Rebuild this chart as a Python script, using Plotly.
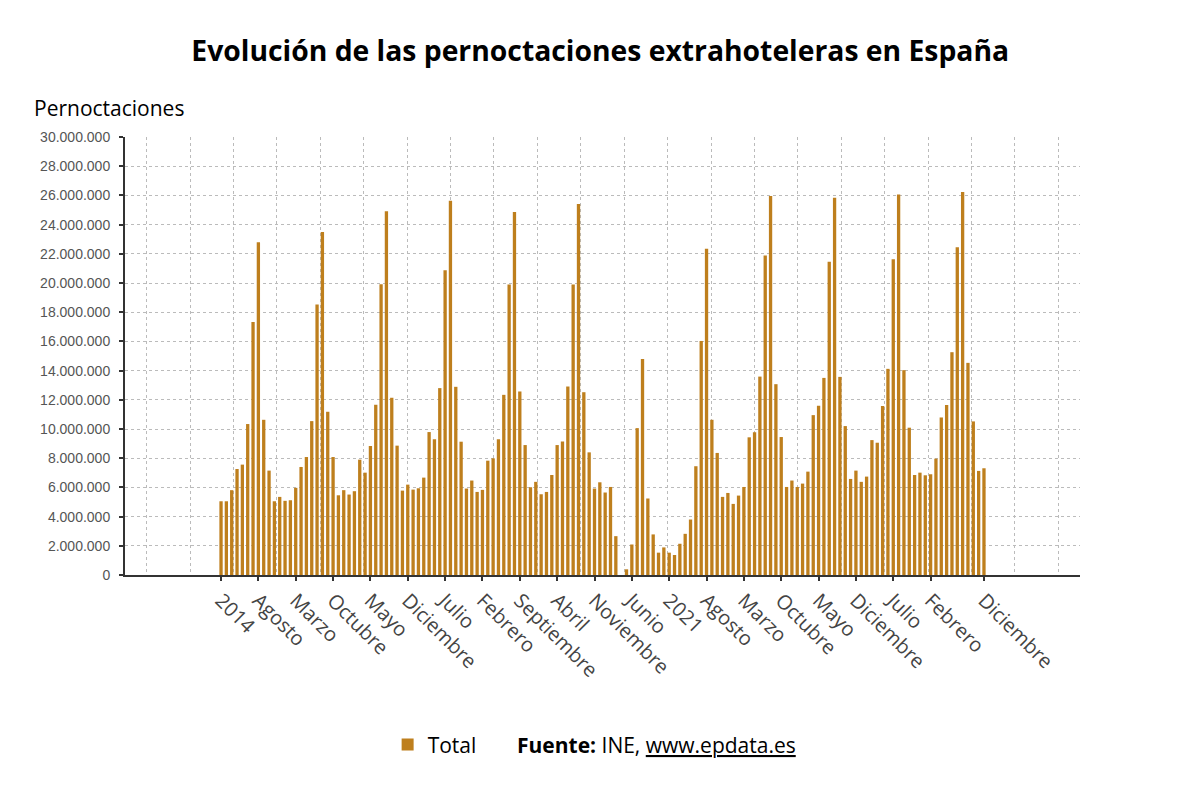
import plotly.graph_objects as go

# Pernoctaciones extrahoteleras, enero 2014 - diciembre 2025 (valores mensuales)
y2014 = [5050000, 5050000, 5810000, 7260000, 7560000, 10340000, 17330000, 22790000, 10630000, 7150000, 5050000, 5350000]
y2015 = [5080000, 5120000, 5970000, 7400000, 8080000, 10540000, 18530000, 23500000, 11180000, 8080000, 5460000, 5810000]
y2016 = [5510000, 5740000, 7900000, 7010000, 8830000, 11660000, 19920000, 24910000, 12140000, 8860000, 5780000, 6190000]
y2017 = [5850000, 5940000, 6670000, 9790000, 9290000, 12800000, 20880000, 25640000, 12890000, 9130000, 5920000, 6470000]
y2018 = [5690000, 5830000, 7830000, 7990000, 9290000, 12340000, 19900000, 24870000, 12570000, 8900000, 6010000, 6380000]
y2019 = [5530000, 5690000, 6850000, 8900000, 9150000, 12910000, 19900000, 25410000, 12520000, 8400000, 5920000, 6350000]
y2020 = [5650000, 6030000, 2660000, 0, 390000, 2090000, 10060000, 14800000, 5240000, 2780000, 1530000, 1890000]
y2021 = [1530000, 1370000, 2140000, 2820000, 3800000, 7450000, 16030000, 22340000, 10630000, 8360000, 5350000, 5620000]
y2022 = [4870000, 5440000, 6030000, 9430000, 9770000, 13590000, 21880000, 25960000, 13070000, 9450000, 6030000, 6470000]
y2023 = [6030000, 6260000, 7080000, 10950000, 11590000, 13500000, 21450000, 25840000, 13570000, 10200000, 6580000, 7150000]
y2024 = [6380000, 6740000, 9240000, 9060000, 11570000, 14120000, 21630000, 26070000, 14030000, 10090000, 6850000, 7010000]
y2025 = [6830000, 6900000, 7970000, 10790000, 11640000, 15260000, 22450000, 26230000, 14530000, 10520000, 7130000, 7310000]

total = y2014 + y2015 + y2016 + y2017 + y2018 + y2019 + y2020 + y2021 + y2022 + y2023 + y2024 + y2025
months = list(range(len(total)))

# etiquetas del eje x (cada 7 meses, mas el ultimo mes)
tick_pos = list(range(0, 140, 7)) + [143]
tick_text = ["2014", "Agosto", "Marzo", "Octubre", "Mayo", "Diciembre", "Julio", "Febrero",
             "Septiembre", "Abril", "Noviembre", "Junio", "2021", "Agosto", "Marzo", "Octubre",
             "Mayo", "Diciembre", "Julio", "Febrero", "Diciembre"]

bar_color = "#BE7F1D"

x_min, x_max = -18, 161
n_grid = 22
grid_pos = [x_min + (i + 0.5) * (x_max - x_min) / n_grid for i in range(n_grid)]

fig = go.Figure()
fig.add_trace(go.Bar(
    x=months,
    y=total,
    name="Total",
    marker=dict(color=bar_color, line=dict(width=0)),
    hovertemplate="%{y:,d}<extra></extra>",
))

fig.update_layout(
    width=1200,
    height=800,
    paper_bgcolor="white",
    plot_bgcolor="white",
    separators=",.",
    bargap=0.38,
    margin=dict(l=117, r=128, t=129, b=233),
    title=dict(
        text="<b>Evolución de las pernoctaciones extrahoteleras en España</b>",
        x=0.4935, xanchor="center", y=0.946, yanchor="middle",
        font=dict(family="Open Sans", size=28.3, color="#000000"),
    ),
    showlegend=True,
    legend=dict(
        orientation="h",
        x=0.275, xanchor="left",
        y=-0.388, yanchor="middle",
        font=dict(family="Open Sans", size=21, color="#000000"),
        itemwidth=30,
    ),
    font=dict(family="Open Sans"),
)

fig.update_xaxes(
    range=[x_min, x_max],
    tickmode="array",
    tickvals=tick_pos,
    ticktext=tick_text,
    tickangle=45,
    tickfont=dict(family="Open Sans", size=20, color="#444444"),
    ticks="outside", ticklen=4, tickwidth=2, tickcolor="#333333",
    showgrid=False,
    minor=dict(tickmode="array", tickvals=grid_pos, showgrid=True,
               gridcolor="#BBBBBB", griddash="dot", gridwidth=1, ticks=""),
    showline=True, linecolor="#333333", linewidth=2,
    zeroline=False,
)

fig.update_yaxes(
    range=[0, 30000000],
    dtick=2000000,
    tickformat=",d",
    tickfont=dict(family="Liberation Sans", size=14, color="#555555"),
    ticks="outside", ticklen=4, tickwidth=2, tickcolor="#333333",
    ticklabelstandoff=6,
    showgrid=True, gridcolor="#BBBBBB", griddash="dot", gridwidth=1,
    showline=True, linecolor="#333333", linewidth=2,
    zeroline=False,
)

fig.add_annotation(
    text="Pernoctaciones",
    xref="paper", yref="paper",
    x=-0.097, xanchor="left",
    y=1.066, yanchor="middle",
    showarrow=False,
    font=dict(family="Open Sans", size=21, color="#000000"),
)

fig.add_annotation(
    text="<b>Fuente:</b> INE, <u>www.epdata.es</u>",
    xref="paper", yref="paper",
    x=0.408, xanchor="left",
    y=-0.388, yanchor="middle",
    showarrow=False,
    font=dict(family="Open Sans", size=21, color="#000000"),
)

fig.write_html("out.html")
